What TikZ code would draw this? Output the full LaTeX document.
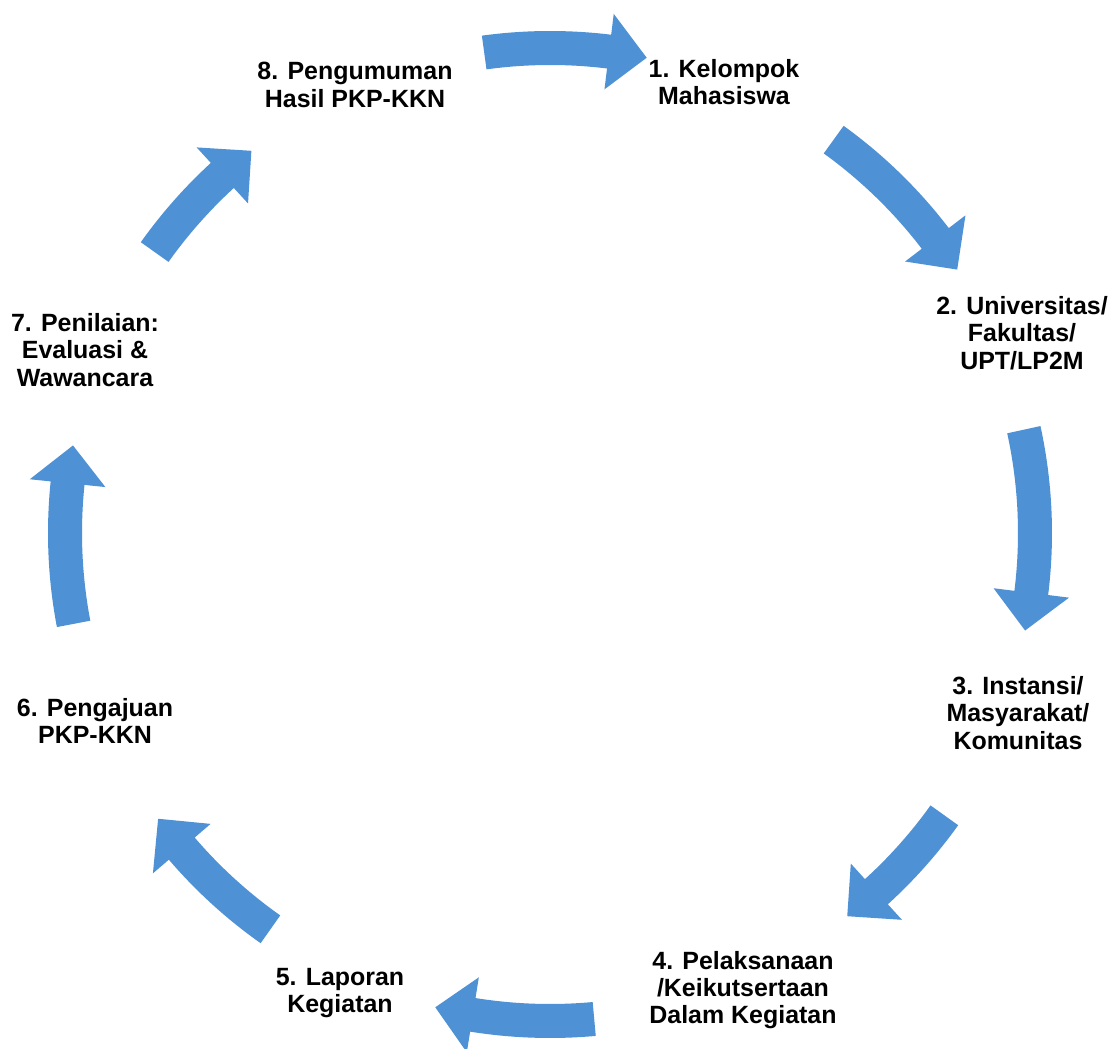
\documentclass[tikz,border=0pt]{standalone}
\usepackage{fontspec}
\setmainfont{Liberation Sans}
\usetikzlibrary{positioning}

\definecolor{cycleblue}{RGB}{79,145,213}

% curved block arrow on the cycle: start angle, tip angle, radius
\newcommand{\cyclearrow}[3]{%
  \pgfmathsetmacro{\headbase}{#2+4.5}%
  \fill[cycleblue] ({#1}:{#3+17}) arc[start angle={#1}, end angle={\headbase}, radius={#3+17}]
    -- ({\headbase}:{#3+38}) -- ({#2}:{#3}) -- ({\headbase}:{#3-38}) -- ({\headbase}:{#3-17})
    arc[start angle={\headbase}, end angle={#1}, radius={#3-17}] -- cycle;}

\begin{document}
\begin{tikzpicture}[x=0.02cm, y=0.02cm,
    lbl/.style={align=center, inner sep=0pt, font=\bfseries\fontsize{14.2}{15.5}\selectfont}]
                \clip (-550,533) rectangle (561,-515);
                \fill[white] (-550,533) rectangle (561,-515);

                % Nodes
                \node[lbl] (1) at (174, 451) {1. Kelompok\\Mahasiswa};
                \node[lbl] (2) at (472, 200) {2. Universitas/\\Fakultas/\\UPT/LP2M};
                \node[lbl] (3) at (468, -180) {3. Instansi/\\Masyarakat/\\Komunitas};
                \node[lbl] (4) at (193, -457) {4. Pelaksanaan\\/Keikutsertaan\\Dalam Kegiatan};
                \node[lbl] (5) at (-210, -460) {5. Laporan\\Kegiatan};
                \node[lbl] (6) at (-455, -188) {6. Pengajuan\\PKP-KKN};
                \node[lbl] (7) at (-465, 183) {7. Penilaian:\\Evaluasi \&\\Wawancara};
                \node[lbl] (8) at (-195, 448) {8. Pengumuman\\Hasil PKP-KKN};

                % Arrows (clockwise)
                \cyclearrow{97.8}{78.5}{485}   % 8 -> 1
                \cyclearrow{54.2}{32.9}{485}   % 1 -> 2
                \cyclearrow{12.3}{-11.6}{485}  % 2 -> 3
                \cyclearrow{-35.6}{-52.2}{485} % 3 -> 4
                \cyclearrow{-84.8}{-103.6}{488} % 4 -> 5
                \cyclearrow{-125.2}{-143.9}{485} % 5 -> 6
                \cyclearrow{-169.2}{-190.4}{485} % 6 -> 7
                \cyclearrow{144.6}{128}{485}   % 7 -> 8
            \end{tikzpicture}
\end{document}
